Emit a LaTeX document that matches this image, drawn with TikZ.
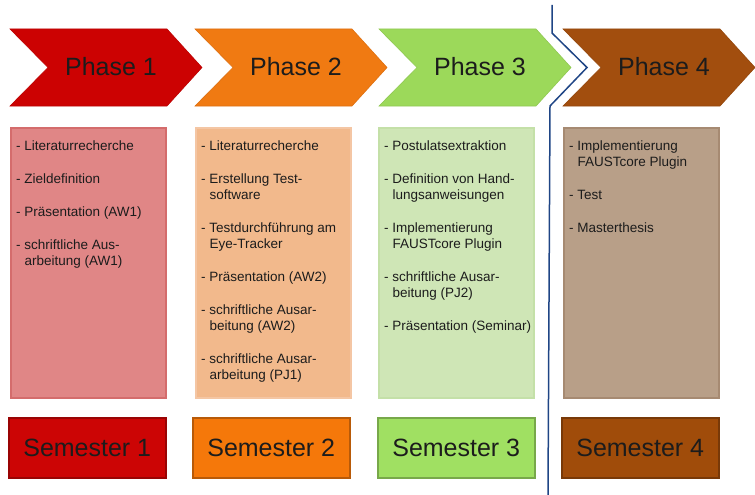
\documentclass[tikz,border=0pt]{standalone}
\usepackage{fontspec}
\setmainfont{Liberation Sans}
\usetikzlibrary{positioning}
\definecolor{phaseA}{HTML}{CC0202}
\definecolor{phaseB}{HTML}{F07A12}
\definecolor{phaseC}{HTML}{9CD95A}
\definecolor{phaseD}{HTML}{A24E0E}
\definecolor{boxA}{HTML}{E08686}
\definecolor{boxAline}{HTML}{D46C6C}
\definecolor{boxB}{HTML}{F2B98C}
\definecolor{boxBline}{HTML}{F4C6A4}
\definecolor{boxC}{HTML}{CFE6B6}
\definecolor{boxCline}{HTML}{C4E0A8}
\definecolor{boxD}{HTML}{B89F88}
\definecolor{boxDline}{HTML}{A68A72}
\definecolor{semA}{HTML}{CC0505}
\definecolor{semB}{HTML}{F5780A}
\definecolor{semC}{HTML}{A0E062}
\definecolor{semD}{HTML}{A04C0A}
\definecolor{sepblue}{HTML}{1F4585}
\definecolor{textgray}{HTML}{1C1C1C}
\newcommand{\taskindent}{\hspace*{8.3pt}}

\begin{document}
\begin{tikzpicture}[x=1pt, y=-1pt,
    chevron/.style={draw=#1!92!black, fill=#1, line width=0.6pt},
    phaselabel/.style={font=\fontsize{25}{30}\selectfont, text=textgray},
    taskbox/.style={anchor=north west, minimum width=155pt, minimum height=270pt,
      line width=1.5pt, inner sep=0pt},
    tasklist/.style={anchor=north west, inner sep=0pt, align=left,
      font=\fontsize{13.5}{16}\selectfont, text=textgray},
    sembox/.style={anchor=north west, minimum width=157pt, minimum height=60pt,
      line width=1.5pt, inner sep=0pt, font=\fontsize{25}{30}\selectfont, text=textgray},
    sepline/.style={draw=sepblue, line width=1.5pt},
  ]
  \useasboundingbox (0,0) rectangle (755,495);

  % phase arrows
  \foreach \i/\x/\col in {1/10/phaseA, 2/195/phaseB, 3/379/phaseC, 4/563/phaseD}{
    \draw[chevron=\col] (\x,29) -- ++(157,0) -- ++(35,38.5) -- ++(-35,38.5)
      -- ++(-157,0) -- ++(38,-38.5) -- cycle;
    \node[phaselabel] (phase\i) at (\x+101,67) {Phase \i};
  }

  % task boxes
  \foreach \i/\x/\fc/\bc in {1/10/boxA/boxAline, 2/195/boxB/boxBline,
      3/378/boxC/boxCline, 4/563/boxD/boxDline}{
    \node[taskbox, fill=\fc, draw=\bc] (tasks\i) at (\x,127) {};
  }
  \node[tasklist] (list1) at ([xshift=6pt,yshift=-14pt]tasks1.north west)
    {- Literaturrecherche\\[17pt]
     - Zieldefinition\\[17pt]
     - Pr\"asentation (AW1)\\[17pt]
     - schriftliche Aus-\\\taskindent arbeitung (AW1)};
  \node[tasklist] (list2) at ([xshift=6pt,yshift=-14pt]tasks2.north west)
    {- Literaturrecherche\\[17pt]
     - Erstellung Test-\\\taskindent software\\[17pt]
     - Testdurchf\"uhrung am\\\taskindent Eye-Tracker\\[17pt]
     - Pr\"asentation (AW2)\\[17pt]
     - schriftliche Ausar-\\\taskindent beitung (AW2)\\[17pt]
     - schriftliche Ausar-\\\taskindent arbeitung (PJ1)};
  \node[tasklist] (list3) at ([xshift=6pt,yshift=-14pt]tasks3.north west)
    {- Postulatsextraktion\\[17pt]
     - Definition von Hand-\\\taskindent lungsanweisungen\\[17pt]
     - Implementierung\\\taskindent FAUSTcore Plugin\\[17pt]
     - schriftliche Ausar-\\\taskindent beitung (PJ2)\\[17pt]
     - Pr\"asentation (Seminar)};
  \node[tasklist] (list4) at ([xshift=6pt,yshift=-14pt]tasks4.north west)
    {- Implementierung\\\taskindent FAUSTcore Plugin\\[17pt]
     - Test\\[17pt]
     - Masterthesis};

  % semesters
  \foreach \i/\x/\col in {1/8/semA, 2/192/semB, 3/377/semC, 4/561/semD}{
    \node[sembox, fill=\col, draw=\col!75!black] (sem\i) at (\x,417) {Semester \i};
  }

  % separator
  \coordinate (sepTop) at (552,5);
  \coordinate (sepBottom) at (548,495);
  \draw[sepline] (sepTop) -- (552,33) -- (587,67.5) -- (550,106) -- (sepBottom);
\end{tikzpicture}
\end{document}
